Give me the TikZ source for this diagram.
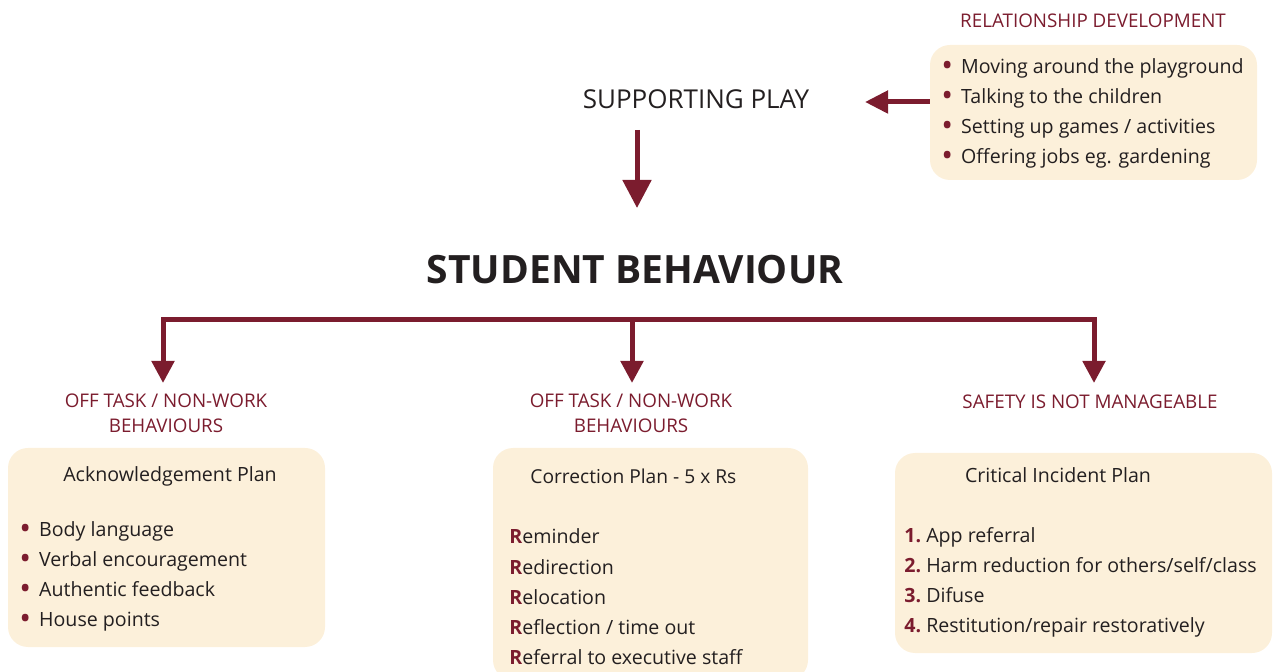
\documentclass[tikz,border=0pt]{standalone}
\usepackage{fontspec}
\setmainfont{Open Sans}
\usetikzlibrary{arrows.meta}

\definecolor{berry}{HTML}{7B1C2E}
\definecolor{cream}{HTML}{FCF0DA}
\definecolor{ink}{HTML}{231F20}

\newcommand{\dotitem}[1]{\textcolor{berry}{\raisebox{-0.3ex}{\scalebox{1.6}{\textbullet}}}\hspace{4pt}#1}
\newcommand{\bigR}{\textcolor{berry}{\textbf{R}}}
\newcommand{\num}[1]{\textcolor{berry}{\textbf{#1.}}\ }

\tikzset{
  bar/.style={draw=berry,line width=2.5pt},
  arr/.style={bar,-{Triangle[length=11pt,width=11pt]}},
  bigarr/.style={bar,-{Triangle[length=14pt,width=14pt]}},
  planbox/.style={fill=cream,rounded corners=10pt,inner sep=0pt},
  tag/.style={text=berry,font=\fontsize{9.4}{12.5}\selectfont,align=center},
  txt/.style={text=ink,font=\fontsize{9.8}{15}\selectfont,inner sep=0pt},
  lst/.style={txt,align=left,anchor=west}
}

\begin{document}
\begin{tikzpicture}[x=0.5pt,y=-0.5pt]
\useasboundingbox (0,0) rectangle (1273,672);

% top: relationship development feeds supporting play
\node[tag] (rdtag) at (1093,21) {RELATIONSHIP DEVELOPMENT};
\node[planbox,minimum width=163.5pt,minimum height=67.5pt] (rd) at (1093.5,112.5) {};
\node[lst] (rdlist) at (941,113) {\dotitem{Moving around the playground}\\
  \dotitem{Talking to the children}\\
  \dotitem{Setting up games / activities}\\
  \dotitem{Offering jobs eg. gardening}};
\node[text=ink,font=\fontsize{13}{15}\selectfont] (sp) at (696,99) {SUPPORTING PLAY};
\coordinate (sptip) at (865,102);
\draw[arr,-{Triangle[length=11.5pt,width=11pt]}] (rd.west |- sptip) -- (sptip);

% down into student behaviour
\node[text=ink,font=\fontsize{19.5}{24}\bfseries] (sb) at (635,270) {STUDENT BEHAVIOUR};
\coordinate (dtop) at (637,130);
\coordinate (dtip) at (637,208);
\draw[bigarr] (dtop) -- (dtip);

% the three branches
\coordinate (tip1) at (163,383);
\coordinate (tip2) at (632,383);
\coordinate (tip3) at (1094,383);
\coordinate (bar2) at (632,320);
\draw[arr,{Triangle[length=11pt,width=11pt]}-{Triangle[length=11pt,width=11pt]}] (tip1) |- (bar2) -| (tip3);
\draw[arr] (bar2) -- (tip2);

\node[tag] (tag1) at (166,413) {OFF TASK / NON-WORK\\BEHAVIOURS};
\node[tag] (tag2) at (631,413) {OFF TASK / NON-WORK\\BEHAVIOURS};
\node[tag] (tag3) at (1090,402) {SAFETY IS NOT MANAGEABLE};

% acknowledgement plan
\node[planbox,minimum width=158.5pt,minimum height=99.5pt] (ack) at (166.5,547.5) {};
\node[txt] (acktitle) at (170,476) {Acknowledgement Plan};
\node[lst] (acklist) at (19,576) {\dotitem{Body language}\\
  \dotitem{Verbal encouragement}\\
  \dotitem{Authentic feedback}\\
  \dotitem{House points}};

% correction plan
\node[planbox,minimum width=157.5pt,minimum height=116pt] (cor) at (650.5,564) {};
\node[txt,anchor=west,font=\fontsize{9.6}{15}\selectfont] (cortitle) at (530,476) {Correction Plan - 5 x Rs};
\node[lst,font=\fontsize{9.8}{15.1}\selectfont] (corlist) at (509,597) {\bigR eminder\\
  \bigR edirection\\
  \bigR elocation\\
  \bigR eflection / time out\\
  \bigR eferral to executive staff};

% critical incident plan
\node[planbox,minimum width=188.5pt,minimum height=100pt] (cip) at (1083.5,553) {};
\node[txt] (ciptitle) at (1058,475) {Critical Incident Plan};
\node[lst] (ciplist) at (904,582) {\num{1}App referral\\
  \num{2}Harm reduction for others/self/class\\
  \num{3}Difuse\\
  \num{4}Restitution/repair restoratively};
\end{tikzpicture}
\end{document}
